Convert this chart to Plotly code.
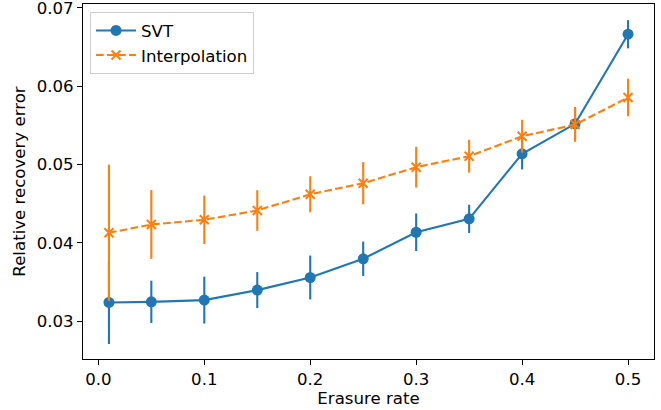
import plotly.graph_objects as go

erasure_rate = [0.01, 0.05, 0.1, 0.15, 0.2, 0.25, 0.3, 0.35, 0.4, 0.45, 0.5]
svt_mean = [0.03238, 0.03246, 0.03268, 0.03396, 0.03557, 0.03796, 0.04135, 0.04306, 0.05137, 0.0552, 0.06664]
svt_err = [0.0053, 0.0027, 0.0030, 0.0023, 0.0028, 0.0022, 0.0024, 0.0018, 0.0020, 0.0021, 0.0018]
interp_mean = [0.04128, 0.04234, 0.04294, 0.04413, 0.0462, 0.04761, 0.04966, 0.05106, 0.05361, 0.0551, 0.05856]
interp_err = [0.0087, 0.0044, 0.0031, 0.0026, 0.0023, 0.0027, 0.0026, 0.0021, 0.0021, 0.0022, 0.0024]

x_ticks = [0.0, 0.1, 0.2, 0.3, 0.4, 0.5]
x_tick_labels = ["0.0", "0.1", "0.2", "0.3", "0.4", "0.5"]
y_ticks = [0.03, 0.04, 0.05, 0.06, 0.07]
y_tick_labels = ["0.03", "0.04", "0.05", "0.06", "0.07"]

BLUE = "#1f77b4"
ORANGE = "#ff7f0e"
FONT = "DejaVu Sans"
FS = 16.6

fig = go.Figure()
fig.add_trace(go.Scatter(
    x=erasure_rate, y=svt_mean, name="SVT", mode="lines+markers",
    line=dict(color=BLUE, width=2.1),
    marker=dict(symbol="circle", size=11, color=BLUE),
    error_y=dict(type="data", array=svt_err, visible=True, color=BLUE, thickness=2.1, width=0),
))
fig.add_trace(go.Scatter(
    x=erasure_rate, y=interp_mean, name="Interpolation", mode="lines+markers",
    line=dict(color=ORANGE, width=2.1, dash="7.7px,3.3px"),
    marker=dict(symbol="x-thin", size=9, color=ORANGE, line=dict(color=ORANGE, width=2)),
    error_y=dict(type="data", array=interp_err, visible=True, color=ORANGE, thickness=2.1, width=0),
))

axis_common = dict(
    showline=True, linecolor="black", linewidth=1.1, mirror=True,
    ticks="outside", ticklen=5, tickwidth=1.1, tickcolor="black",
    showgrid=False, zeroline=False,
    tickfont=dict(family=FONT, size=FS, color="black"),
)

fig.update_layout(
    width=661, height=410,
    margin=dict(l=83, r=7, t=4, b=51, autoexpand=False),
    paper_bgcolor="white", plot_bgcolor="white",
    font=dict(family=FONT, size=FS, color="black"),
    xaxis=dict(range=[-0.0145, 0.5245], tickvals=x_ticks, ticktext=x_tick_labels,
               title=dict(text="Erasure rate", font=dict(family=FONT, size=FS), standoff=4),
               automargin=False, ticklabeloverflow="allow", **axis_common),
    yaxis=dict(range=[0.02516, 0.0705], tickvals=y_ticks, ticktext=y_tick_labels,
               title=dict(text="Relative recovery error", font=dict(family=FONT, size=FS), standoff=6),
               automargin=False, ticklabeloverflow="allow", **axis_common),
    legend=dict(x=0.0123, y=0.977, xanchor="left", yanchor="top",
                bgcolor="rgba(255,255,255,0.8)", bordercolor="#cccccc", borderwidth=1,
                font=dict(family=FONT, size=FS, color="black"), tracegroupgap=0,
                itemwidth=40),
    showlegend=True,
)

fig.write_html("out.html", config={"displayModeBar": False},
               post_script="document.body.style.margin='0';document.body.style.padding='0';")
